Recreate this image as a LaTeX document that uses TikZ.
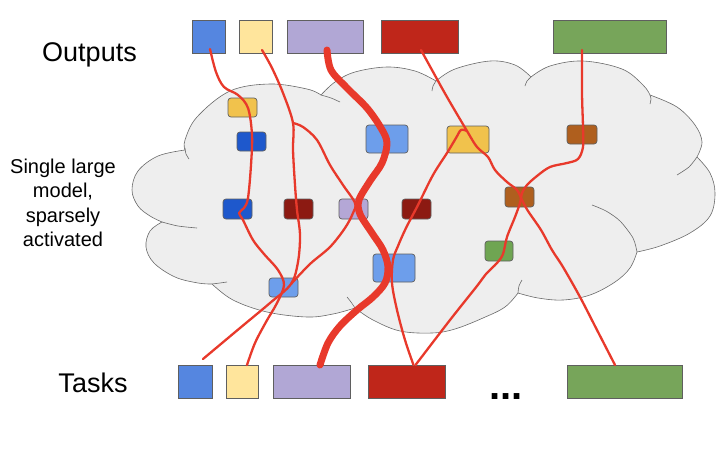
\documentclass[tikz,border=0pt]{standalone}
\usepackage{fontspec}
\setmainfont{Liberation Sans}
\definecolor{cloudfill}{HTML}{EEEEEE}
\definecolor{cloudline}{HTML}{6A6A6A}
\definecolor{boxline}{HTML}{5F5F5F}
\definecolor{obblue}{HTML}{5586E0}
\definecolor{obyellow}{HTML}{FFE59C}
\definecolor{oblav}{HTML}{B1A7D5}
\definecolor{obred}{HTML}{BF261A}
\definecolor{obgreen}{HTML}{77A55A}
\definecolor{ibgold}{HTML}{F1C24C}
\definecolor{ibdblue}{HTML}{1E58CC}
\definecolor{iblblue}{HTML}{6D9EEB}
\definecolor{ibdred}{HTML}{8C1A12}
\definecolor{ibbrown}{HTML}{AF5F1E}
\definecolor{ibgreen}{HTML}{6FA552}
\definecolor{iblav}{HTML}{B4A7D6}
\definecolor{wirered}{HTML}{E8392B}
\begin{document}
\begin{tikzpicture}[x=1pt,y=-1pt,
  cloudshape/.style={fill=cloudfill, draw=cloudline, line width=0.6pt},
  crease/.style={draw=cloudline, line width=0.6pt},
  obox/.style={draw=boxline, line width=0.7pt, inner sep=0pt, outer sep=0pt, minimum height=33pt},
  ibox/.style={draw=boxline, line width=0.7pt, rounded corners=3pt, inner sep=0pt, outer sep=0pt},
  wire/.style={draw=wirered, line width=2.3pt, line cap=round, line join=round},
  thickwire/.style={wire, line width=7pt},
  lbl/.style={font=\fontsize{27}{32}\selectfont, inner sep=0pt, outer sep=0pt}]
\useasboundingbox (0,0) rectangle (726,450);

% cloud
\path[cloudshape]
 plot[smooth,tension=0.6] coordinates {(185,150) (185,140) (197,117) (230,91) (270,84) (307,89) (321,95)}
 -- plot[smooth,tension=0.6] coordinates {(321,95) (335,82) (355,72) (387,67) (415,71) (436,81)}
 -- plot[smooth,tension=0.6] coordinates {(436,81) (455,69) (490,61) (515,65) (531,77)}
 -- plot[smooth,tension=0.6] coordinates {(531,77) (550,66) (583,61) (622,69) (643,85) (650,95)}
 -- plot[smooth,tension=0.6] coordinates {(650,95) (677,107) (695,125) (702,142) (697,157)}
 -- plot[smooth,tension=0.6] coordinates {(697,157) (710,173) (715,193) (710,216) (690,233) (660,246) (637,252)}
 -- plot[smooth,tension=0.6] coordinates {(637,252) (630,268) (615,282) (590,295) (563,300) (538,298) (518,293)}
 -- plot[smooth,tension=0.6] coordinates {(518,293) (505,307) (483,318) (455,329) (432,333) (400,331) (373,320) (355,308)}
 -- plot[smooth,tension=0.6] coordinates {(355,308) (333,314) (307,317) (267,312) (233,300) (212,284)}
 -- plot[smooth,tension=0.6] coordinates {(212,284) (198,283) (175,277) (154,263) (146,247) (150,231) (162,222)}
 -- plot[smooth,tension=0.6] coordinates {(162,222) (150,216) (138,206) (132,190) (138,171) (158,156) (185,150)}
 -- cycle;
\draw[crease] plot[smooth] coordinates {(185,148) (186,154) (189,159)};
\draw[crease] plot[smooth] coordinates {(321,95) (331,98) (340,102)};
\draw[crease] plot[smooth] coordinates {(436,81) (433,86) (432,91)};
\draw[crease] plot[smooth] coordinates {(531,77) (527,81) (525,86)};
\draw[crease] plot[smooth] coordinates {(650,95) (651,99) (650,104)};
\draw[crease] plot[smooth] coordinates {(697,157) (689,167) (677,175)};
\draw[crease] plot[smooth] coordinates {(162,222) (178,226) (197,228)};
\draw[crease] plot[smooth] coordinates {(212,284) (220,283) (227,282)};
\draw[crease] plot[smooth] coordinates {(355,308) (351,302) (347,297)};
\draw[crease] plot[smooth] coordinates {(518,293) (519,286) (522,280)};
\draw[crease] plot[smooth] coordinates {(637,252) (633,238) (620,221) (606,211) (592,205)};

% labels
\node[lbl, anchor=base] (outlbl) at (89.5,61) {Outputs};
\node[lbl, anchor=base] (tasklbl) at (93,392) {Tasks};
\node[inner sep=0pt, anchor=north, align=center, font=\fontsize{20}{24.5}\selectfont] (modellbl) at (63,158.5) {Single large\\model,\\sparsely\\activated};
\node[inner sep=0pt, anchor=base, font=\fontsize{40}{40}\selectfont\bfseries] (dots) at (506,399) {...};

% inner experts
\node[ibox, fill=ibgold, minimum width=29pt, minimum height=19pt] (gold1) at (242.5,107.5) {};
\node[ibox, fill=ibdblue, minimum width=29pt, minimum height=19pt] (dblue1) at (251.5,141.5) {};
\node[ibox, fill=iblblue, minimum width=42pt, minimum height=28pt] (lblue1) at (387,139) {};
\node[ibox, fill=ibgold, minimum width=42pt, minimum height=27pt] (gold2) at (468,139.5) {};
\node[ibox, fill=ibbrown, minimum width=30pt, minimum height=19pt] (brown1) at (582,134.5) {};
\node[ibox, fill=ibdblue, minimum width=29pt, minimum height=20pt] (dblue2) at (237.5,209) {};
\node[ibox, fill=ibdred, minimum width=29pt, minimum height=20pt] (dred1) at (298.5,209) {};
\node[ibox, fill=iblav, minimum width=29pt, minimum height=20pt] (lav1) at (353.5,209) {};
\node[ibox, fill=ibdred, minimum width=29pt, minimum height=20pt] (dred2) at (416.5,209) {};
\node[ibox, fill=ibbrown, minimum width=29pt, minimum height=20pt] (brown2) at (519.5,197) {};
\node[ibox, fill=ibgreen, minimum width=28pt, minimum height=20pt] (green1) at (499,251) {};
\node[ibox, fill=iblblue, minimum width=42pt, minimum height=28pt] (lblue2) at (394,268) {};
\node[ibox, fill=iblblue, minimum width=29pt, minimum height=19pt] (lblue3) at (283.5,287.5) {};

% outputs
\node[obox, fill=obblue, minimum width=33pt] (o1) at (208.5,36.5) {};
\node[obox, fill=obyellow, minimum width=33pt] (o2) at (255.5,36.5) {};
\node[obox, fill=oblav, minimum width=76pt] (o3) at (325,36.5) {};
\node[obox, fill=obred, minimum width=77pt] (o4) at (419.5,36.5) {};
\node[obox, fill=obgreen, minimum width=113pt] (o5) at (609.5,36.5) {};
% tasks
\node[obox, fill=obblue, minimum width=34pt] (t1) at (195,381.5) {};
\node[obox, fill=obyellow, minimum width=32pt] (t2) at (242,381.5) {};
\node[obox, fill=oblav, minimum width=77pt] (t3) at (311.5,381.5) {};
\node[obox, fill=obred, minimum width=77pt] (t4) at (406.5,381.5) {};
\node[obox, fill=obgreen, minimum width=115pt] (t5) at (624.5,381.5) {};

% wire end points
\coordinate (w1s) at ([xshift=1.5pt,yshift=4pt]o1.south);
\coordinate (w2s) at ([xshift=6.5pt,yshift=3pt]o2.south);
\coordinate (w4s) at ([xshift=2pt,yshift=3pt]o3.south);
\coordinate (w5s) at ([xshift=1.5pt,yshift=3pt]o4.south);
\coordinate (w7s) at ([xshift=-27.5pt,yshift=3pt]o5.south);
\coordinate (w1e) at ([xshift=5pt]t2.north);
\coordinate (w2e) at ([xshift=8pt,yshift=6pt]t1.north);
\coordinate (w4e) at ([xshift=8.5pt]t3.north);
\coordinate (w5e) at ([xshift=-9.5pt]t5.north);
\coordinate (w6e) at ([xshift=7pt]t4.north);
\coordinate (w7e) at ([xshift=9pt]t4.north);
\coordinate (split1) at (293,123);
\coordinate (split2) at (467,131);

% wires
\draw[wire] plot[smooth,tension=0.55] coordinates {(w1s) (216,72) (224,87) (238,95) (248,108) (252,135) (251,165) (248,198) (244,208) (239,213) (243,220) (253,240) (264,254) (278,270) (284,285) (277,303) (266,322) (255,343) (w1e)};
\draw[wire] plot[smooth,tension=0.55] coordinates {(w2s) (272,68) (283,93) (split1) (293,150) (295,185) (297,210) (300,235) (298,262) (291,284) (270,303) (240,328) (w2e)};
\draw[wire] plot[smooth,tension=0.55] coordinates {(split1) (303,127) (317,140) (330,165) (343,185) (355,203) (353,213) (345,228) (330,247) (310,264) (291,284)};
\draw[thickwire] plot[smooth,tension=0.55] coordinates {(w4s) (331,70) (347,88) (367,108) (381,128) (387,143) (382,163) (370,181) (359,200) (360,214) (372,233) (383,250) (388,267) (385,283) (373,297) (357,310) (340,326) (328,343) (w4e)};
\draw[wire] plot[smooth,tension=0.55] coordinates {(w5s) (432,70) (447,97) (split2) (477,147) (488,157) (495,170) (507,182) (517,190) (522,200) (528,211) (541,230) (552,250) (563,267) (580,297) (597,330) (w5e)};
\draw[wire] plot[smooth,tension=0.55] coordinates {(split2) (461,130) (456,138) (447,153) (433,175) (418,205) (406,228) (398,246) (393,260) (392,283) (397,310) (405,340) (w6e)};
\draw[wire] plot[smooth,tension=0.55] coordinates {(w7s) (582,93) (583,127) (583,147) (578,159) (567,163) (550,167) (537,176) (527,185) (522,193) (520,203) (515,217) (507,237) (503,254) (497,263) (486,274) (477,286) (450,320) (w7e)};
\end{tikzpicture}
\end{document}
